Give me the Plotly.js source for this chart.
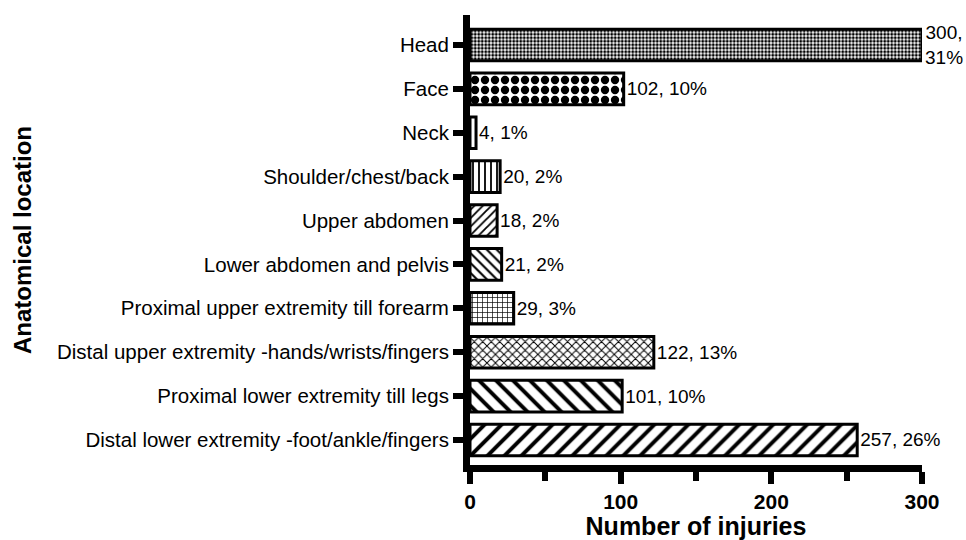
<!DOCTYPE html>
<html>
<head>
<meta charset="utf-8">
<script src="https://cdn.plot.ly/plotly-3.0.1.min.js"></script>
<style>html,body{margin:0;padding:0;background:#fff;}#chart{width:966px;height:540px;}</style>
</head>
<body>
<div id="chart"></div>
<script>
const categories = [
  "Head",
  "Face",
  "Neck",
  "Shoulder/chest/back",
  "Upper abdomen",
  "Lower abdomen and pelvis",
  "Proximal upper extremity till forearm",
  "Distal upper extremity -hands/wrists/fingers",
  "Proximal lower extremity till legs",
  "Distal lower extremity -foot/ankle/fingers"
];
const injuries = [300, 102, 4, 20, 18, 21, 29, 122, 101, 257];
const percents = [31, 10, 1, 2, 2, 2, 3, 13, 10, 26];
const xTickVals = [0, 100, 200, 300];

const labels = injuries.map((v, i) => v >= 300 ? v + ",<br>" + percents[i] + "%" : v + ", " + percents[i] + "%");

const patternShapes = [".", ".", "", "|", "/", "\\", "+", "x", "\\", "/"];
const patternSizes = [3.5, 10, 6, 6, 6, 7, 5, 6, 12, 12];
const patternSolid = [0.55, 0.55, 0.3, 0.3, 0.3, 0.3, 0.25, 0.3, 0.33, 0.33];

const font = "Liberation Sans, Arial, Helvetica, sans-serif";

const trace = {
  type: "bar",
  orientation: "h",
  y: categories,
  x: injuries,
  width: 0.72,
  text: labels,
  textposition: "outside",
  constraintext: "none",
  cliponaxis: false,
  textfont: {family: font, size: 19, color: "#000"},
  marker: {
    color: "#fff",
    line: {color: "#000", width: 3},
    pattern: {
      shape: patternShapes,
      size: patternSizes,
      solidity: patternSolid,
      fgcolor: "#000",
      bgcolor: "#fff",
      fillmode: "replace"
    }
  },
  hoverinfo: "skip"
};

const layout = {
  width: 966,
  height: 540,
  margin: {l: 470, r: 44, t: 15, b: 75},
  paper_bgcolor: "#fff",
  plot_bgcolor: "#fff",
  showlegend: false,
  font: {family: font, color: "#000"},
  xaxis: {
    range: [0, 300],
    tickvals: xTickVals,
    ticktext: xTickVals.map(String),
    ticks: "outside",
    ticklen: 12,
    tickwidth: 6,
    tickcolor: "#000",
    showline: true,
    linecolor: "#000",
    linewidth: 7,
    showgrid: false,
    zeroline: false,
    tickfont: {family: font, size: 21, color: "#000", weight: "bold"},
    minor: {dtick: 50, tick0: 0, ticks: "outside", ticklen: 9, tickwidth: 6, tickcolor: "#000", showgrid: false},
    title: {text: "<b>Number of injuries</b>", font: {family: font, size: 25, color: "#000"}, standoff: 6}
  },
  yaxis: {
    type: "category",
    range: [9.57, -0.683],
    ticks: "outside",
    ticklen: 10,
    tickwidth: 6,
    tickcolor: "#000",
    showline: true,
    linecolor: "#000",
    linewidth: 7,
    showgrid: false,
    zeroline: false,
    tickfont: {family: font, size: 20.5, color: "#000"},
    title: {text: "<b>Anatomical location</b>", font: {family: font, size: 24, color: "#000"}, standoff: 21}
  }
};

Plotly.newPlot("chart", [trace], layout, {staticPlot: true, displayModeBar: false});
</script>
</body>
</html>
